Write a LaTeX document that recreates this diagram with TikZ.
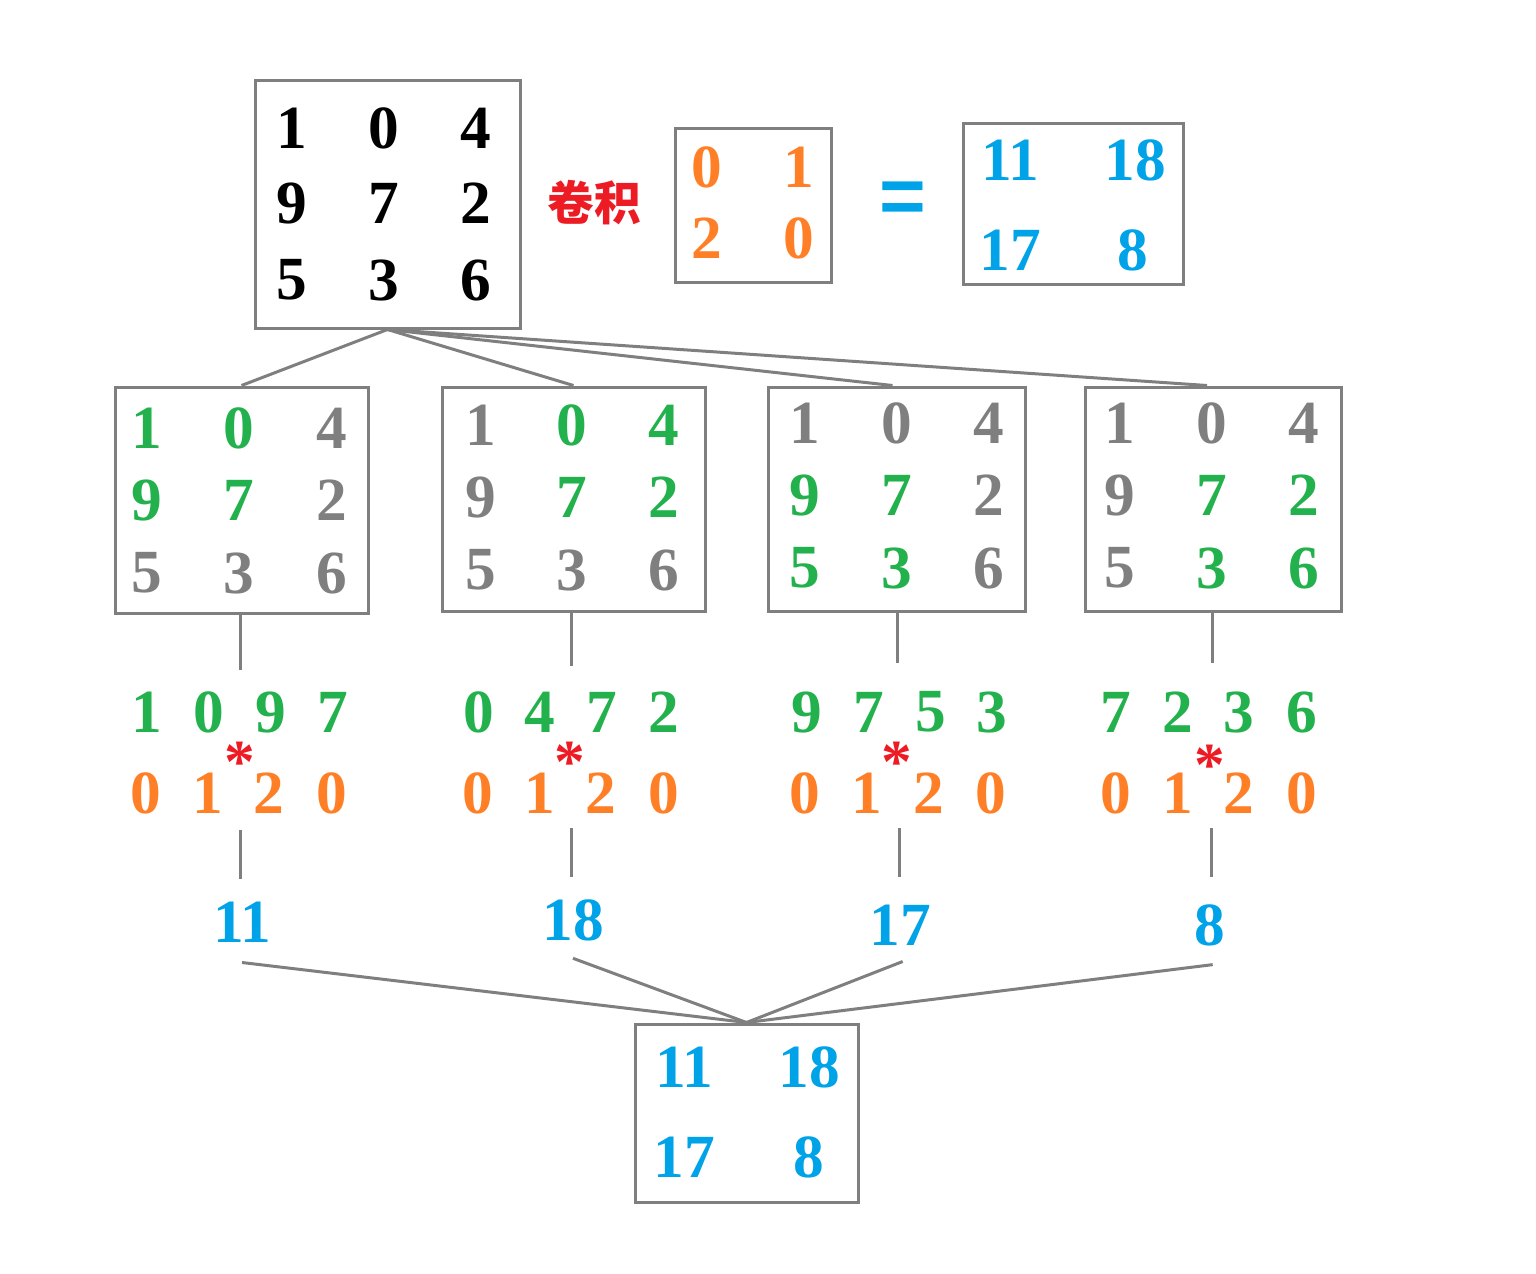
\documentclass[tikz,border=0pt]{standalone}
\usepackage{fontspec}
\setmainfont{Liberation Serif}
\newfontfamily\cjkfont{Noto Sans CJK SC}
\newfontfamily\eqfont{Liberation Sans}
\definecolor{cgreen}{HTML}{22B14C}
\definecolor{cgray}{HTML}{7F7F7F}
\definecolor{corange}{HTML}{FF7F27}
\definecolor{cblue}{HTML}{00A2E8}
\definecolor{cred}{HTML}{ED1C24}
\tikzset{
  num/.style={font=\bfseries\fontsize{46}{50}\selectfont, inner sep=0pt},
  gbox/.style={draw=cgray, line width=2.25pt, inner sep=0pt},
  link/.style={draw=cgray, line width=2.25pt},
  starmark/.style={font=\bfseries\fontsize{46}{50}\selectfont, inner sep=0pt, text=cred},
}
\newcommand\tightstar{\raisebox{-0.33em}[0.34em][0pt]{*}}
\begin{document}
\begin{tikzpicture}[x=0.75pt,y=-0.75pt]
\useasboundingbox (0,0) rectangle (1536,1274);
% top input matrix
\node[gbox, minimum width=265*0.75pt, minimum height=248*0.75pt] (A) at (387.5,204) {};
\foreach \v/\x/\y [count=\i] in {1/292/128,0/384/128,4/476/128,9/292/203,7/384/203,2/476/203,5/292/280,3/384/280,6/476/280}
  \node[num] (a\i) at (\x,\y) {\v};
% convolution label
\node[inner sep=0pt, text=cred, font=\cjkfont\bfseries\fontsize{35}{38}\selectfont] (conv) at (594,203) {卷积};
% kernel
\node[gbox, minimum width=156*0.75pt, minimum height=154*0.75pt] (K) at (753,205) {};
\foreach \v/\x/\y [count=\i] in {0/707/167,1/799/167,2/707/238,0/799/238}
  \node[num, text=corange] (k\i) at (\x,\y) {\v};
% equals
\node[inner sep=0pt, text=cblue, font=\eqfont\bfseries\fontsize{60}{64}\selectfont] (eq) at (903,203) {=};
% result
\node[gbox, minimum width=220*0.75pt, minimum height=161*0.75pt] (R) at (1073,203.5) {};
\foreach \v/\x/\y [count=\i] in {11/1010/160,18/1135/160,17/1010/250,8/1133/250}
  \node[num, text=cblue] (rr\i) at (\x,\y) {\v};
% four window boxes
\node[gbox, minimum width=253*0.75pt, minimum height=226*0.75pt] (B1) at (241.5,500) {};
\node[gbox, minimum width=263*0.75pt, minimum height=224*0.75pt] (B2) at (573.5,499) {};
\node[gbox, minimum width=257*0.75pt, minimum height=224*0.75pt] (B3) at (896.5,499) {};
\node[gbox, minimum width=256*0.75pt, minimum height=224*0.75pt] (B4) at (1213,499) {};
\foreach \v/\x/\y/\c [count=\i] in {1/147/428/cgreen,0/239/428/cgreen,4/332/428/cgray,9/147/500/cgreen,7/239/500/cgreen,2/332/500/cgray,5/147/573/cgray,3/239/573/cgray,6/332/573/cgray}
  \node[num, text=\c] (bA\i) at (\x,\y) {\v};
\foreach \v/\x/\y/\c [count=\i] in {1/481/425/cgray,0/572/425/cgreen,4/664/425/cgreen,9/481/497/cgray,7/572/497/cgreen,2/664/497/cgreen,5/481/570/cgray,3/572/570/cgray,6/664/570/cgray}
  \node[num, text=\c] (bB\i) at (\x,\y) {\v};
\foreach \v/\x/\y/\c [count=\i] in {1/805/423/cgray,0/897/423/cgray,4/989/423/cgray,9/805/495/cgreen,7/897/495/cgreen,2/989/495/cgray,5/805/568/cgreen,3/897/568/cgreen,6/989/568/cgray}
  \node[num, text=\c] (bC\i) at (\x,\y) {\v};
\foreach \v/\x/\y/\c [count=\i] in {1/1120/423/cgray,0/1212/423/cgray,4/1304/423/cgray,9/1120/495/cgray,7/1212/495/cgreen,2/1304/495/cgreen,5/1120/568/cgray,3/1212/568/cgreen,6/1304/568/cgreen}
  \node[num, text=\c] (bD\i) at (\x,\y) {\v};
% links from input to windows
\draw[link] (A.south) -- (B1.north);
\draw[link] (A.south) -- (B2.north);
\draw[link] (A.south) -- ([xshift=-3pt]B3.north);
\draw[link] (A.south) -- ([xshift=-4.5pt]B4.north);
% flattened rows
\foreach \v/\x [count=\i] in {1/147,0/209,9/271,7/333}
  \node[num, text=cgreen] (sA\i) at (\x,712) {\v};
\foreach \v/\x [count=\i] in {0/479,4/540,7/602,2/664}
  \node[num, text=cgreen] (sB\i) at (\x,712) {\v};
\foreach \v/\x [count=\i] in {9/807,7/869,5/931,3/992}
  \node[num, text=cgreen] (sC\i) at (\x,712) {\v};
\foreach \v/\x [count=\i] in {7/1116,2/1178,3/1239,6/1302}
  \node[num, text=cgreen] (sD\i) at (\x,712) {\v};
\foreach \g/\a/\b/\c/\d in {A/146/208/269/332,B/478/540/601/664,C/805/867/929/991,D/1116/1178/1239/1302}{
  \node[num, text=corange] (o\g1) at (\a,793) {0};
  \node[num, text=corange] (o\g2) at (\b,793) {1};
  \node[num, text=corange] (o\g3) at (\c,793) {2};
  \node[num, text=corange] (o\g4) at (\d,793) {0};
}
\node[starmark] (stA) at (240,752) {\tightstar};
\node[starmark] (stB) at (570,752) {\tightstar};
\node[starmark] (stC) at (897,752) {\tightstar};
\node[starmark] (stD) at (1210,755) {\tightstar};
% vertical connectors
\coordinate (vA1) at (240,670); \coordinate (vB1) at (571,666);
\coordinate (vC1) at (897,663); \coordinate (vD1) at (1212,663);
\draw[link] (B1.south -| vA1) -- (vA1);
\draw[link] (B2.south -| vB1) -- (vB1);
\draw[link] (B3.south -| vC1) -- (vC1);
\draw[link] (B4.south -| vD1) -- (vD1);
\coordinate (wA1) at (240,830); \coordinate (wA2) at (240,879);
\coordinate (wB1) at (571,828); \coordinate (wB2) at (571,877);
\coordinate (wC1) at (899,828); \coordinate (wC2) at (899,877);
\coordinate (wD1) at (1211,828); \coordinate (wD2) at (1211,877);
\draw[link] (wA1) -- (wA2);
\draw[link] (wB1) -- (wB2);
\draw[link] (wC1) -- (wC2);
\draw[link] (wD1) -- (wD2);
% partial results
\node[num, text=cblue] (p1) at (242,922) {11};
\node[num, text=cblue] (p2) at (573,920) {18};
\node[num, text=cblue] (p3) at (900,925) {17};
\node[num, text=cblue] (p4) at (1210,925) {8};
% final matrix
\node[gbox, minimum width=223*0.75pt, minimum height=178*0.75pt] (F) at (746.5,1113) {};
\foreach \v/\x/\y [count=\i] in {11/684/1067,18/809/1067,17/684/1157,8/809/1157}
  \node[num, text=cblue] (f\i) at (\x,\y) {\v};
\draw[link] ([yshift=-15pt]p1.south) -- (F.north);
\draw[link] ([yshift=-13pt]p2.south) -- (F.north);
\draw[link] ([xshift=2pt,yshift=-12pt]p3.south) -- (F.north);
\draw[link] ([xshift=2pt,yshift=-14pt]p4.south) -- (F.north);
\end{tikzpicture}
\end{document}
